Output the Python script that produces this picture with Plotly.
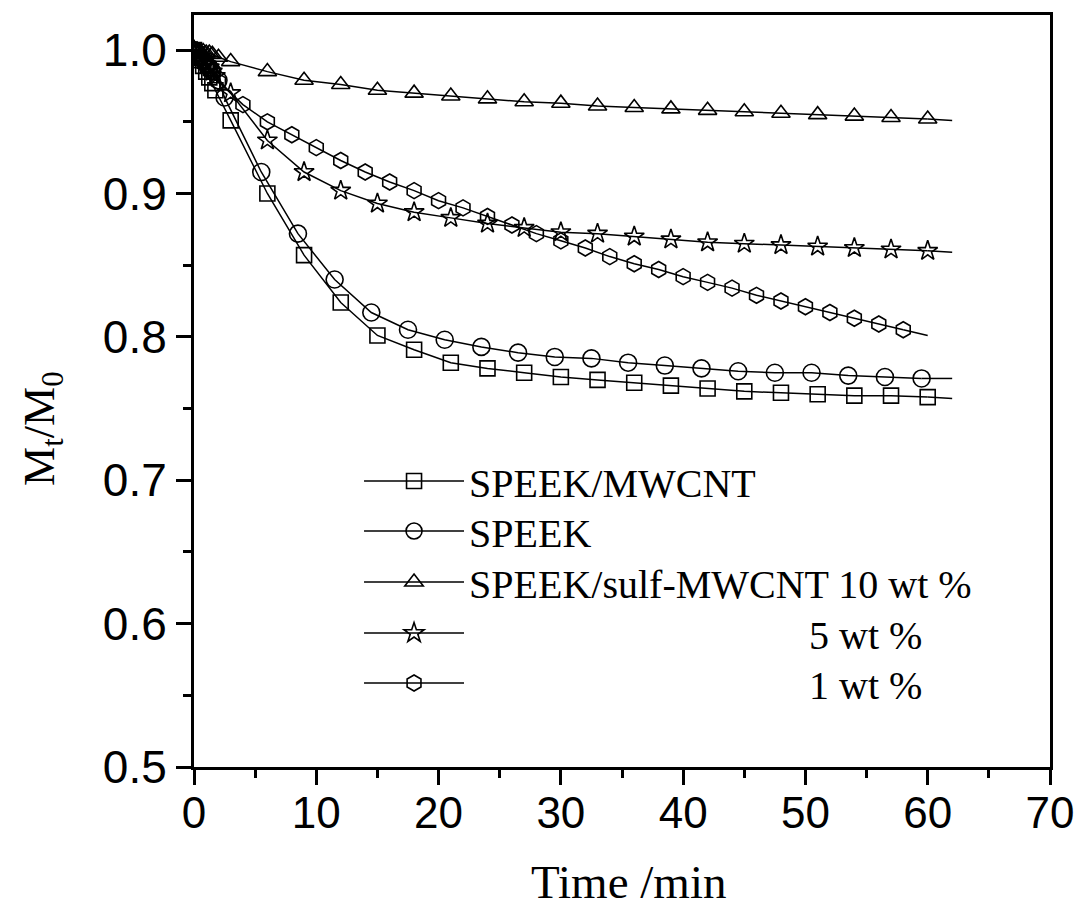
import plotly.graph_objects as go

# ---- data ----
t_sq = [0, 0.25, 0.5, 0.75, 1.0, 1.25, 1.5, 1.75, 3, 6, 9, 12, 15, 18, 21, 24, 27, 30, 33, 36, 39, 42, 45,
        48, 51, 54, 57, 60, 62]
y_sq = [1.000, 0.997, 0.993, 0.989, 0.985, 0.981, 0.977, 0.972, 0.951, 0.900, 0.857, 0.824, 0.801, 0.791,
        0.782, 0.778, 0.775, 0.772, 0.770, 0.768, 0.766, 0.764, 0.762, 0.761, 0.760, 0.759, 0.759, 0.758,
        0.757]

t_ci = [0, 0.25, 0.5, 0.75, 1.0, 1.25, 1.5, 2.0, 2.5, 5.5, 8.5, 11.5, 14.5, 17.5, 20.5, 23.5, 26.5, 29.5,
        32.5, 35.5, 38.5, 41.5, 44.5, 47.5, 50.5, 53.5, 56.5, 59.5, 62]
y_ci = [1.000, 0.998, 0.995, 0.993, 0.990, 0.988, 0.985, 0.979, 0.967, 0.915, 0.872, 0.840, 0.817, 0.805,
        0.798, 0.793, 0.789, 0.786, 0.785, 0.782, 0.780, 0.778, 0.776, 0.775, 0.775, 0.773, 0.772, 0.771,
        0.771]

t_tr = [0, 0.25, 0.5, 0.75, 1.0, 1.25, 1.5, 2.0, 3, 6, 9, 12, 15, 18, 21, 24, 27, 30, 33, 36, 39, 42, 45,
        48, 51, 54, 57, 60, 62]
y_tr = [1.000, 1.000, 0.999, 0.999, 0.998, 0.998, 0.997, 0.995, 0.992, 0.985, 0.979, 0.976, 0.972, 0.970,
        0.968, 0.966, 0.964, 0.963, 0.961, 0.960, 0.959, 0.958, 0.957, 0.956, 0.955, 0.954, 0.953, 0.952,
        0.951]

t_st = [0, 0.25, 0.5, 0.75, 1.0, 1.25, 1.5, 1.75, 3, 6, 9, 12, 15, 18, 21, 24, 27, 30, 33, 36, 39, 42, 45,
        48, 51, 54, 57, 60, 62]
y_st = [1.000, 0.998, 0.995, 0.993, 0.990, 0.988, 0.985, 0.982, 0.970, 0.937, 0.915, 0.902, 0.893, 0.887,
        0.883, 0.879, 0.876, 0.873, 0.872, 0.870, 0.868, 0.866, 0.865, 0.864, 0.863, 0.862, 0.861, 0.860,
        0.859]

t_hx = [0, 0.25, 0.5, 0.75, 1.0, 1.25, 1.5, 2.0, 4, 6, 8, 10, 12, 14, 16, 18, 20, 22, 24, 26, 28, 30, 32,
        34, 36, 38, 40, 42, 44, 46, 48, 50, 52, 54, 56, 58, 60]
y_hx = [1.000, 0.998, 0.996, 0.993, 0.990, 0.988, 0.985, 0.978, 0.962, 0.950, 0.941, 0.932, 0.923, 0.915,
        0.908, 0.902, 0.895, 0.890, 0.884, 0.878, 0.872, 0.867, 0.862, 0.856, 0.851, 0.847, 0.842, 0.838,
        0.834, 0.829, 0.825, 0.821, 0.817, 0.813, 0.809, 0.805, 0.801]

names = ["SPEEK/MWCNT", "SPEEK", "SPEEK/sulf-MWCNT 10 wt %",
         "\u00a0" * 34 + "5 wt %", "\u00a0" * 34 + "1 wt %"]
x_ticks = [0, 10, 20, 30, 40, 50, 60, 70]
y_ticks = [0.5, 0.6, 0.7, 0.8, 0.9, 1.0]
y_ticklabels = ["0.5", "0.6", "0.7", "0.8", "0.9", "1.0"]

series = [
    (t_sq, y_sq, "square-open", 15),
    (t_ci, y_ci, "circle-open", 17),
    (t_tr, y_tr, "triangle-up-open", 16),
    (t_st, y_st, "star-open", 15),
    (t_hx, y_hx, "hexagon-open", 16),
]

W, H = 1086, 907
ML, MR, MT, MB = 194, 31, 15, 140
plot_h = H - MT - MB
legend_rows_px = [481, 531, 582, 633, 683]
legend_ids = ["legend", "legend2", "legend3", "legend4", "legend5"]

fig = go.Figure()
for (tx, ty, sym, sz), nm, lid in zip(series, names, legend_ids):
    # measured points carry markers; the last point is the end of the drawn curve
    fig.add_trace(go.Scatter(
        x=tx[:-1], y=ty[:-1], name=nm, mode="lines+markers", legend=lid,
        line=dict(color="black", width=1.5),
        marker=dict(symbol=sym, size=sz, color="black", line=dict(color="black", width=1.6)),
    ))
    fig.add_trace(go.Scatter(
        x=tx[-2:], y=ty[-2:], mode="lines", showlegend=False, hoverinfo="skip",
        line=dict(color="black", width=1.5),
    ))

legend_layout = {}
for lid, yc in zip(legend_ids, legend_rows_px):
    ypaper = ((H - MB) - yc) / plot_h
    legend_layout[lid] = dict(
        x=0.1928, y=ypaper, xanchor="left", yanchor="middle",
        bgcolor="rgba(0,0,0,0)", itemwidth=100,
        font=dict(family="Liberation Serif", size=40, color="black"),
    )

fig.update_layout(
    width=W, height=H,
    paper_bgcolor="white", plot_bgcolor="white",
    margin=dict(l=ML, r=MR, t=MT, b=MB),
    font=dict(family="Liberation Serif", color="black"),
    showlegend=True,
    **legend_layout,
    annotations=[
        dict(text="M<sub>t</sub>/M<sub>0</sub>", xref="paper", yref="paper", x=-0.1765, y=0.4495,
             xanchor="center", yanchor="middle", textangle=-90, showarrow=False,
             font=dict(family="Liberation Serif", size=44, color="black")),
        dict(text="Time /min", xref="paper", yref="paper", x=0.5075, y=-0.153,
             xanchor="center", yanchor="middle", showarrow=False,
             font=dict(family="Liberation Serif", size=47, color="black")),
    ],
)
fig.update_xaxes(
    range=[0, 70], tickvals=x_ticks, ticktext=[str(v) for v in x_ticks],
    showline=True, linecolor="black", linewidth=3, mirror=True,
    ticks="outside", ticklen=15, tickwidth=3, tickcolor="black",
    minor=dict(dtick=5, tick0=0, ticks="outside", ticklen=8, tickwidth=3, tickcolor="black"),
    showgrid=False, zeroline=False, ticklabelstandoff=-10,
    tickfont=dict(family="Liberation Sans", size=44, color="black"),
)
fig.update_yaxes(
    range=[0.5, 1.0245], tickvals=y_ticks, ticktext=y_ticklabels,
    showline=True, linecolor="black", linewidth=3, mirror=True,
    ticks="outside", ticklen=15, tickwidth=3, tickcolor="black",
    minor=dict(dtick=0.05, tick0=0.5, ticks="outside", ticklen=8, tickwidth=3, tickcolor="black"),
    showgrid=False, zeroline=False,
    tickfont=dict(family="Liberation Sans", size=46, color="black"),
)

fig.write_html("out.html", config={"displayModeBar": False},
               post_script="document.body.style.margin='0';document.body.style.overflow='hidden';")
